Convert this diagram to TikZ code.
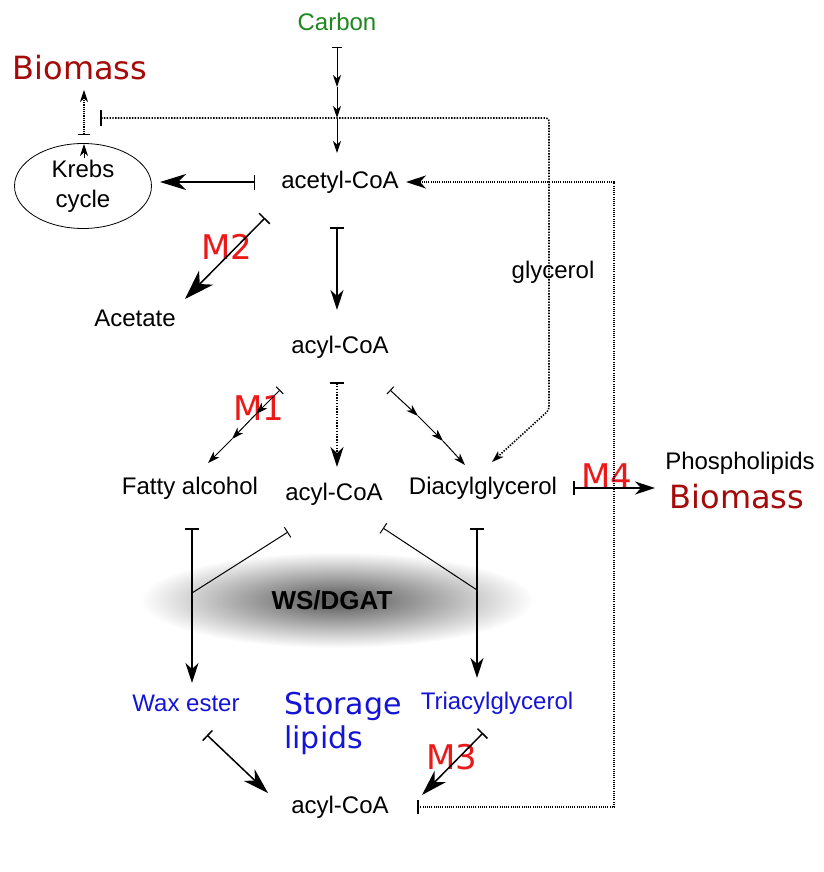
\documentclass[tikz,border=0pt]{standalone}
\usepackage{fontspec}
\setmainfont{Liberation Sans}
\newfontfamily\dejavu{DejaVu Sans}
\usetikzlibrary{arrows.meta,shapes.geometric}
\definecolor{carbongreen}{RGB}{30,135,30}
\definecolor{biored}{RGB}{165,10,10}
\definecolor{mred}{RGB}{235,25,25}
\definecolor{lipblue}{RGB}{20,20,215}
\pgfdeclareradialshading{wsglow}{\pgfpoint{0bp}{0bp}}{color(0bp)=(black!62); color(4bp)=(black!56); color(24bp)=(white); color(50bp)=(white)}
\tikzset{
  lbl/.style={inner sep=0pt, font=\fontsize{24}{30}\selectfont},
  biglbl/.style={inner sep=0pt, font=\dejavu\fontsize{32}{36}\selectfont, text=biored},
  mlbl/.style={inner sep=0pt, font=\dejavu\fontsize{34}{36}\selectfont, text=mred},
  bluelbl/.style={inner sep=0pt, text=lipblue},
  tipL/.tip={Stealth[length=26pt,width=16pt,inset=8pt]},
  tipM/.tip={Stealth[length=20pt,width=13pt,inset=6pt]},
  tipS/.tip={Stealth[length=12pt,width=8pt,inset=3.5pt]},
  mainline/.style={line width=1.5pt},
  thinline/.style={line width=1pt},
  dotline/.style={line width=1.6pt, dash pattern=on 1.4pt off 1.4pt},
  finedot/.style={line width=1.1pt, dash pattern=on 1.1pt off 1.1pt},
}
\begin{document}
\begin{tikzpicture}[x=1pt,y=-1pt]
\fill[white] (0,0) rectangle (823,872);
\useasboundingbox (0,0) rectangle (823,872);

% WS/DGAT glow
\shade[shading=wsglow] (337,600) ellipse [x radius=205pt, y radius=50pt];

% text nodes
\node[lbl, text=carbongreen] (carbon) at (337,22) {Carbon};
\node[biglbl] (biomassL) at (80,68) {Biomass};
\node[ellipse, draw, line width=0.8pt, minimum width=137pt, minimum height=85pt, inner sep=0pt, align=center, font=\fontsize{24}{30}\selectfont] (krebs) at (83,186) {Krebs\\cycle};
\node[lbl] (acetyl) at (340,182) {acetyl-CoA};
\node[lbl] (acetate) at (135,318) {Acetate};
\node[lbl] (acyl1) at (340,347) {acyl-CoA};
\node[lbl] (fatty) at (190,488) {Fatty alcohol};
\node[lbl] (acyl2) at (334,494) {acyl-CoA};
\node[lbl] (dag) at (483,488) {Diacylglycerol};
\node[lbl] (glycerol) at (553,272) {glycerol};
\node[lbl] (phospho) at (740,463) {Phospholipids};
\node[biglbl] (biomassR) at (737,497) {Biomass};
\node[inner sep=0pt, font=\bfseries\fontsize{26}{30}\selectfont] (ws) at (332,600) {WS/DGAT};
\node[lbl, bluelbl] (wax) at (186,703) {Wax ester};
\node[inner sep=0pt, text=lipblue, align=left, font=\dejavu\fontsize{30}{34}\selectfont] (storage) at (343,723) {Storage\\lipids};
\node[lbl, bluelbl] (tag) at (497,703) {Triacylglycerol};
\node[lbl] (acyl3) at (340,807) {acyl-CoA};
\node[mlbl] (m1) at (259,408) {M1};
\node[mlbl] (m2) at (227,247) {M2};
\node[mlbl] (m3) at (452,757) {M3};
\node[mlbl] (m4) at (607,476) {M4};

% coordinates
\coordinate (c0) at (337,47);
\coordinate (c1) at (337,87);
\coordinate (c2) at (337,118);
\coordinate (c3) at (337,153);
\coordinate (g0) at (100,118);
\coordinate (g1) at (549,118);
\coordinate (g2) at (549,410);
\coordinate (g3) at (492,462);
\coordinate (b0) at (84,135);
\coordinate (b1) at (84,90);
\coordinate (kt0) at (84,158);
\coordinate (kt1) at (84,144);
\coordinate (k0) at (255,182);
\coordinate (k1) at (160,182);
\coordinate (a0) at (337,227);
\coordinate (a1) at (337,310);
\coordinate (m20) at (265,218);
\coordinate (m21) at (185,299);
\coordinate (f0) at (280,390);
\coordinate (f1) at (256,414);
\coordinate (f2) at (232,439);
\coordinate (f3) at (208,463);
\coordinate (d0) at (337,382);
\coordinate (d1) at (337,467);
\coordinate (r0) at (390,390);
\coordinate (r1) at (418,416);
\coordinate (r2) at (443,441);
\coordinate (r3) at (465,465);
\coordinate (p0) at (573,488);
\coordinate (p1) at (655,488);
\coordinate (wl0) at (192,528);
\coordinate (wl1) at (192,683);
\coordinate (wj) at (192,593);
\coordinate (ml0) at (288,532);
\coordinate (mr0) at (383,528);
\coordinate (tj) at (477,590);
\coordinate (tl0) at (477,528);
\coordinate (tl1) at (477,678);
\coordinate (w0) at (207,735);
\coordinate (w1) at (268,793);
\coordinate (t0) at (483,733);
\coordinate (t1) at (422,795);
\coordinate (l0) at (417,807);
\coordinate (l1) at (614,807);
\coordinate (l2) at (614,182);
\coordinate (l3) at (406,182);

% Carbon chain
\draw[thinline, {Bar[width=10pt]}-{tipS}] (c0) -- (c1);
\draw[thinline, -{tipS}] (c1) -- (c2);
\draw[thinline, -{tipS}] (c2) -- (c3);

% glycerol dotted path
\draw[dotline, rounded corners=3pt, {Bar[width=16pt,line width=1.5pt]}-{tipS}] (g0) -- (g1) -- (g2) -- (g3);

% Krebs to Biomass
\draw[finedot, {Bar[width=12pt]}-{tipS}] (b0) -- (b1);
\draw[thinline, -{tipS}] (kt0) -- (kt1);

% acetyl-CoA to Krebs
\draw[mainline, {Bar[width=15pt]}-{tipL}] (k0) -- (k1);
% acetyl-CoA to acyl-CoA
\draw[mainline, {Bar[width=14pt]}-{tipM}] (a0) -- (a1);
% M2 to Acetate
\draw[mainline, {Bar[width=15pt]}-{Stealth[length=30pt,width=20pt,inset=9pt]}] (m20) -- (m21);

% acyl-CoA branches
\draw[thinline, {Bar[width=10pt]}-{tipS}] (f0) -- (f1);
\draw[thinline, -{tipS}] (f1) -- (f2);
\draw[thinline, -{tipS}] (f2) -- (f3);
\draw[dotline, {Bar[width=14pt]}-{tipM}] (d0) -- (d1);
\draw[thinline, {Bar[width=10pt]}-{tipS}] (r0) -- (r1);
\draw[thinline, -{tipS}] (r1) -- (r2);
\draw[thinline, -{tipS}] (r2) -- (r3);

% Diacylglycerol to Phospholipids
\draw[mainline, {Bar[width=14pt]}-{tipM}] (p0) -- (p1);

% WS/DGAT reactions
\draw[mainline, {Bar[width=14pt]}-{tipM}] (wl0) -- (wl1);
\draw[thinline, {Bar[width=12pt]}-] (ml0) -- (wj);
\draw[thinline, {Bar[width=12pt]}-] (mr0) -- (tj);
\draw[mainline, {Bar[width=14pt]}-{tipM}] (tl0) -- (tl1);

% storage lipids to acyl-CoA
\draw[mainline, {Bar[width=14pt]}-{tipL}] (w0) -- (w1);
\draw[mainline, {Bar[width=14pt]}-{tipL}] (t0) -- (t1);

% recycling dotted loop
\draw[finedot, {Bar[width=14pt,line width=1.5pt]}-{tipM}] (l0) -- (l1) -- (l2) -- (l3);
\end{tikzpicture}
\end{document}
